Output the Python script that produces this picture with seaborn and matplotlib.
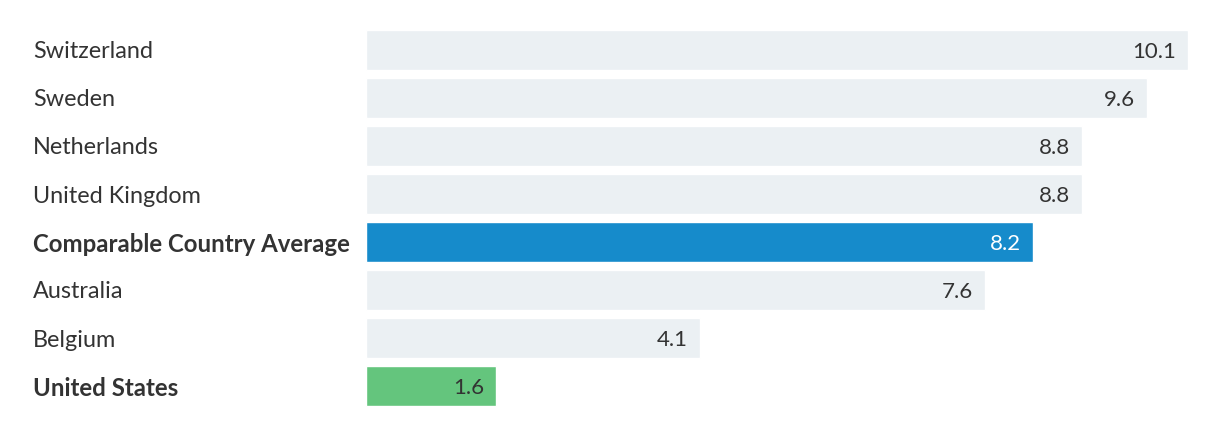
import matplotlib
matplotlib.use("Agg")
import matplotlib.pyplot as plt
import seaborn as sns
import pandas as pd

countries = ["Switzerland", "Sweden", "Netherlands", "United Kingdom",
             "Comparable Country Average", "Australia", "Belgium", "United States"]
values = [10.1, 9.6, 8.8, 8.8, 8.2, 7.6, 4.1, 1.6]
bar_colors = ["#EBF0F3", "#EBF0F3", "#EBF0F3", "#EBF0F3",
              "#168BCB", "#EBF0F3", "#EBF0F3", "#64C57D"]
bold_labels = ["Comparable Country Average", "United States"]

sns.set_theme(style="white")
plt.rcParams["font.family"] = ["Lato", "DejaVu Sans"]

df = pd.DataFrame({"country": countries, "value": values})

fig = plt.figure(figsize=(12.2, 4.36), dpi=100)
ax = fig.add_axes([366 / 1220, 1 - 410 / 436, 822 / 1220, 384 / 436])

sns.barplot(data=df, y="country", x="value", hue="country",
            palette=dict(zip(countries, bar_colors)), orient="h",
            width=40 / 48, ax=ax, legend=False, saturation=1)

ax.set_xlim(0, max(values))
ax.set_ylim(len(countries) - 0.5, -0.5)
ax.set_xlabel("")
ax.set_ylabel("")
ax.set_xticks([])
ax.set_yticks([])
for s in ax.spines.values():
    s.set_visible(False)

for i, (c, v) in enumerate(zip(countries, values)):
    ax.annotate(f"{v:.1f}", xy=(v, i), xytext=(-12, 0), textcoords="offset pixels",
                ha="right", va="center_baseline", fontsize=16,
                color="white" if c == "Comparable Country Average" else "#333333")
    is_bold = c in bold_labels
    ax.annotate(c, xy=(0, i), xycoords=("axes fraction", "data"),
                xytext=(33 - 366, 0), textcoords="offset pixels",
                ha="left", va="center_baseline",
                fontsize=17.3 if is_bold else 16.8,
                fontweight="bold" if is_bold else "normal",
                color="#333333")

fig.savefig("out.png", dpi=100, facecolor="white")
